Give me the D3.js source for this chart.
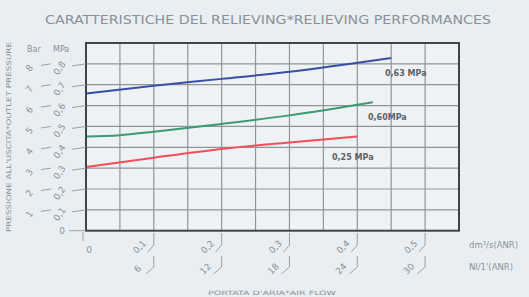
<!DOCTYPE html>
<html>
<head>
<meta charset="utf-8">
<script src="https://cdn.jsdelivr.net/npm/d3@7"></script>
<style>
  body { margin: 0; background: #e9eef2; }
  svg { display: block; font-family: "DejaVu Sans", sans-serif; }
</style>
</head>
<body>
<div id="chart"></div>
<script>
// flow in dm3/s, outlet pressure in MPa
const blueFlow = [0, 0.1, 0.2, 0.3, 0.45];
const bluePress = [0.658, 0.695, 0.728, 0.762, 0.828];
const greenFlow = [0, 0.05, 0.1, 0.2, 0.3, 0.423];
const greenPress = [0.452, 0.458, 0.475, 0.512, 0.553, 0.616];
const redFlow = [0, 0.1, 0.2, 0.3, 0.4];
const redPress = [0.305, 0.35, 0.392, 0.423, 0.452];
const seriesNames = ["0,63 MPa", "0,60MPa", "0,25 MPa"];

const mpaTicks = [0.1, 0.2, 0.3, 0.4, 0.5, 0.6, 0.7, 0.8];
const mpaLabels = ["0,1", "0,2", "0,3", "0,4", "0,5", "0,6", "0,7", "0,8"];
const barLabels = ["1", "2", "3", "4", "5", "6", "7", "8"];
const flowTicks = [0.1, 0.2, 0.3, 0.4, 0.5];
const flowLabels = ["0,1", "0,2", "0,3", "0,4", "0,5"];
const nlLabels = ["6", "12", "18", "24", "30"];

const width = 529, height = 297;
const svg = d3.select("#chart").append("svg")
  .attr("width", width)
  .attr("height", height);

const x = d3.scaleLinear().domain([0, 0.55]).range([86, 459]);
const y = d3.scaleLinear().domain([0, 0.9]).range([230.7, 43]);

const txt = "#8b9196";

// title
svg.append("text")
  .attr("x", 268).attr("y", 24)
  .attr("text-anchor", "middle")
  .attr("font-size", 12.5)
  .attr("fill", txt)
  .attr("textLength", 446)
  .attr("lengthAdjust", "spacingAndGlyphs")
  .text("CARATTERISTICHE DEL RELIEVING*RELIEVING PERFORMANCES");

// plot background
svg.append("rect")
  .attr("x", x(0)).attr("y", y(0.9))
  .attr("width", x(0.55) - x(0)).attr("height", y(0) - y(0.9))
  .attr("fill", "#eef2f5");

// grid
const grid = svg.append("g").attr("stroke", "#8f9599").attr("stroke-width", 1.2);
grid.selectAll("line.v")
  .data(d3.range(1, 11).map(i => i * 0.05))
  .join("line")
  .attr("x1", d => x(d)).attr("x2", d => x(d))
  .attr("y1", y(0)).attr("y2", y(0.9));
grid.selectAll("line.h")
  .data(mpaTicks)
  .join("line")
  .attr("x1", x(0)).attr("x2", x(0.55))
  .attr("y1", d => y(d)).attr("y2", d => y(d));

// curves
const line = d3.line().x(d => x(d[0])).y(d => y(d[1])).curve(d3.curveMonotoneX);
const series = [
  { flow: blueFlow, press: bluePress, color: "#3a4ea6", name: seriesNames[0], lx: 385, ly: 76 },
  { flow: greenFlow, press: greenPress, color: "#3d9a72", name: seriesNames[1], lx: 368, ly: 120 },
  { flow: redFlow, press: redPress, color: "#f24e58", name: seriesNames[2], lx: 332, ly: 160 }
];
series.forEach(s => {
  svg.append("path")
    .datum(s.flow.map((f, i) => [f, s.press[i]]))
    .attr("d", line)
    .attr("fill", "none")
    .attr("stroke", s.color)
    .attr("stroke-width", 2);
  svg.append("text")
    .attr("x", s.lx).attr("y", s.ly)
    .attr("font-size", 8)
    .attr("font-weight", "bold")
    .attr("fill", "#5d6266")
    .text(s.name);
});

// frame
svg.append("rect")
  .attr("x", x(0)).attr("y", y(0.9))
  .attr("width", x(0.55) - x(0)).attr("height", y(0) - y(0.9))
  .attr("fill", "none")
  .attr("stroke", "#3f4447")
  .attr("stroke-width", 2);

// y axis labels
const ya = svg.append("g").attr("fill", txt).attr("font-size", 9);
ya.selectAll("path.lead")
  .data(mpaTicks)
  .join("path")
  .attr("d", d => `M${x(0) - 14},${y(d) + 2} L${x(0)},${y(d)} M41,${y(d) + 1.5} L51,${y(d)}`)
  .attr("stroke", "#9aa0a5").attr("fill", "none");
ya.selectAll("text.mpa")
  .data(mpaTicks)
  .join("text")
  .attr("text-anchor", "middle")
  .attr("transform", d => `translate(62,${y(d) + 6}) rotate(-55)`)
  .text((d, i) => mpaLabels[i]);
ya.selectAll("text.bar")
  .data(mpaTicks)
  .join("text")
  .attr("text-anchor", "middle")
  .attr("transform", d => `translate(32,${y(d) + 6}) rotate(-55)`)
  .text((d, i) => barLabels[i]);
ya.append("path")
  .attr("d", `M${x(0) - 17},${y(0)} L${x(0)},${y(0)}`)
  .attr("stroke", "#9aa0a5");
ya.append("text")
  .attr("x", 62).attr("y", y(0) + 3)
  .attr("text-anchor", "middle")
  .text("0");
ya.append("text").attr("x", 27).attr("y", 52).attr("font-size", 8).text("Bar");
ya.append("text").attr("x", 53).attr("y", 52).attr("font-size", 8).text("MPa");

svg.append("text")
  .attr("transform", `translate(11,137) rotate(-90)`)
  .attr("text-anchor", "middle")
  .attr("font-size", 6.5)
  .attr("fill", txt)
  .attr("textLength", 190)
  .attr("lengthAdjust", "spacingAndGlyphs")
  .text("PRESSIONE ALL'USCITA*OUTLET PRESSURE");

// x axis labels
const xa = svg.append("g").attr("fill", txt).attr("font-size", 9);
xa.selectAll("path.lead")
  .data(flowTicks)
  .join("path")
  .attr("d", d => `M${x(d)},233 L${x(d)},245 L${x(d) - 6},252 M${x(d)},256 L${x(d)},267 L${x(d) - 8},274`)
  .attr("stroke", "#9aa0a5").attr("fill", "none");
xa.selectAll("text.flow")
  .data(flowTicks)
  .join("text")
  .attr("text-anchor", "middle")
  .attr("transform", d => `translate(${x(d) - 12},249) rotate(-45)`)
  .text((d, i) => flowLabels[i]);
xa.selectAll("text.nl")
  .data(flowTicks)
  .join("text")
  .attr("text-anchor", "middle")
  .attr("transform", d => `translate(${x(d) - 14},271) rotate(-45)`)
  .text((d, i) => nlLabels[i]);
xa.append("path").attr("d", `M${x(0) - 3},232 L${x(0) - 3},241`).attr("stroke", "#9aa0a5");
xa.append("text").attr("x", x(0) + 3).attr("y", 253).attr("text-anchor", "middle").text("0");

xa.append("text").attr("x", 469).attr("y", 248).attr("font-size", 8.5).text("dm³/s(ANR)");
xa.append("text").attr("x", 469).attr("y", 270).attr("font-size", 8.5).text("Nl/1'(ANR)");

svg.append("text")
  .attr("x", 272).attr("y", 295)
  .attr("text-anchor", "middle")
  .attr("font-size", 6)
  .attr("fill", txt)
  .attr("textLength", 128)
  .attr("lengthAdjust", "spacingAndGlyphs")
  .text("PORTATA D'ARIA*AIR FLOW");
</script>
</body>
</html>
